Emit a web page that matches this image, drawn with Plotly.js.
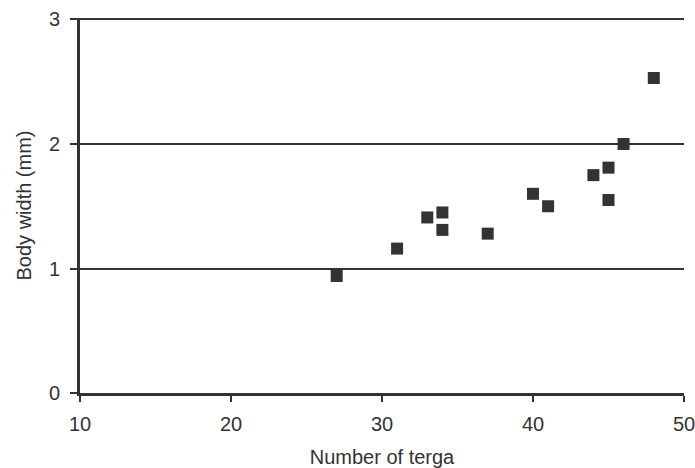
<!DOCTYPE html>
<html>
<head>
<meta charset="utf-8">
<script src="https://cdn.plot.ly/plotly-3.0.1.min.js"></script>
<style>html,body{margin:0;padding:0;background:#fff;}#chart{width:695px;height:468px;}</style>
</head>
<body>
<div id="chart"></div>
<script>
const terga = [27, 31, 33, 34, 34, 37, 40, 41, 44, 45, 45, 46, 48];
const bodyWidth = [0.94, 1.16, 1.41, 1.45, 1.31, 1.28, 1.60, 1.50, 1.75, 1.81, 1.55, 2.00, 2.53];
const xTicks = [10, 20, 30, 40, 50];
const yTicks = [0, 1, 2, 3];

const ink = '#333333';
const trace = {
  x: terga, y: bodyWidth, type: 'scatter', mode: 'markers',
  marker: {symbol: 'square', size: 12, color: ink, line: {width: 0}},
  cliponaxis: false, hoverinfo: 'skip'
};
const layout = {
  width: 695, height: 468,
  margin: {l: 80, r: 11, t: 18, b: 75},
  paper_bgcolor: '#fff', plot_bgcolor: '#fff',
  showlegend: false,
  font: {family: 'Liberation Sans, Arial, sans-serif', size: 20, color: ink},
  xaxis: {
    range: [10, 50], tickvals: xTicks, ticktext: xTicks.map(String),
    showgrid: false, zeroline: false,
    showline: true, linecolor: ink, linewidth: 3,
    ticks: 'outside', ticklen: 6, tickwidth: 2, tickcolor: ink,
    ticklabelstandoff: 5, ticklabeloverflow: 'allow',
    tickfont: {size: 20, color: ink},
    title: {text: 'Number of terga', font: {size: 20, color: ink}, standoff: 19}
  },
  yaxis: {
    range: [0, 3.012], tickvals: yTicks, ticktext: yTicks.map(String),
    showgrid: true, gridcolor: ink, gridwidth: 2, zeroline: false,
    showline: true, linecolor: ink, linewidth: 3,
    ticks: 'outside', ticklen: 7, tickwidth: 2, tickcolor: ink,
    ticklabelstandoff: 6, ticklabeloverflow: 'allow',
    tickfont: {size: 20, color: ink},
    title: {text: 'Body width (mm)', font: {size: 20, color: ink}, standoff: 12}
  }
};
Plotly.newPlot('chart', [trace], layout, {staticPlot: true, displayModeBar: false});
</script>
</body>
</html>
